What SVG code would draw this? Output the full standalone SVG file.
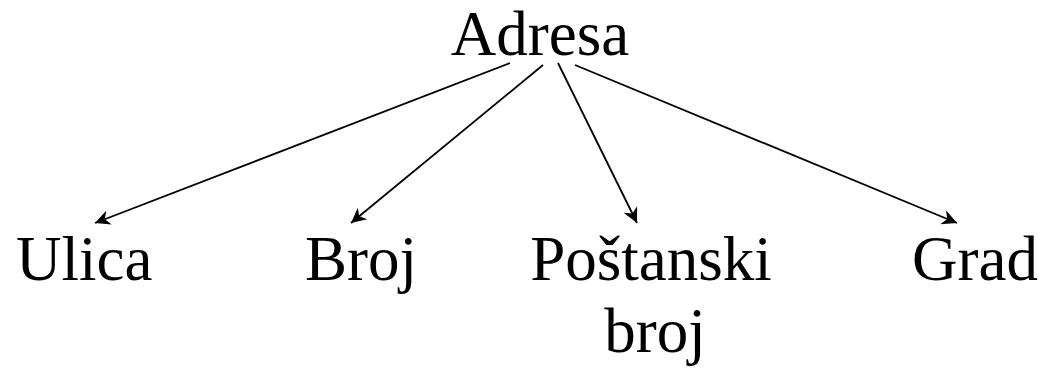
<svg xmlns="http://www.w3.org/2000/svg" width="1046" height="369" viewBox="0 0 1046 369">
<style>
text{font-family:"Liberation Serif","Times New Roman",serif;font-size:63px;fill:#000}
.c{stroke:#000;stroke-width:1.8;fill:none;marker-end:url(#ah)}
</style>
<defs>
<marker id="ah" viewBox="0 0 10 10" refX="10" refY="5" markerWidth="17" markerHeight="15" markerUnits="userSpaceOnUse" orient="auto">
<path d="M0,0 L10,5 L0,10 L3,5 Z" fill="#000"/>
</marker>
</defs>
<rect width="1046" height="369" fill="#fff"/>
<g id="connectors">
<line class="c" x1="510" y1="63" x2="95" y2="223"/>
<line class="c" x1="543" y1="65" x2="351" y2="223"/>
<line class="c" x1="558" y1="63" x2="637" y2="223"/>
<line class="c" x1="575" y1="65" x2="957" y2="223"/>
</g>
<g id="adresa"><text x="540" y="55" text-anchor="middle">Adresa</text></g>
<g id="ulica"><text x="16" y="280">Ulica</text></g>
<g id="broj"><text x="305" y="280">Broj</text></g>
<g id="postanski"><text x="651" y="280" text-anchor="middle">Poštanski</text><text x="655" y="352" text-anchor="middle">broj</text></g>
<g id="grad"><text x="912" y="280">Grad</text></g>
</svg>
